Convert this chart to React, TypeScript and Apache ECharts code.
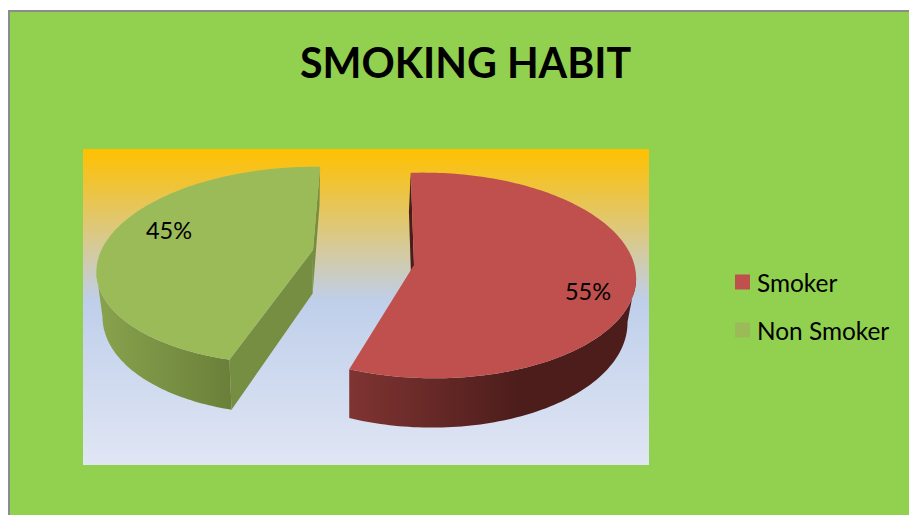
import React, { useEffect, useRef } from "react";
import * as echarts from "echarts";

const titleText = "SMOKING HABIT";
const categories = ["Smoker", "Non Smoker"];
const shares = [55, 45];
const sliceColors = ["#C0504D", "#9BBB59"];

const START_ANGLE = -1;
const FONT = "Lato, Carlito, sans-serif";

type Proj = {
  ax: number; ay: number; A: number; B: number; S: number; C: number; k: number; m: number;
  vx: number; d0: number; y0: number; dSlope: number;
  wall: [string, string, number, number]; face: string; labelX: number; labelY: number;
  faceStart: boolean; faceEnd: boolean;
};

const projections: Proj[] = [
  { ax: 414, ay: 265, A: 101.5, B: 205, S: 0, C: 2, k: 0.1, m: -0.072, vx: 350, d0: 39, y0: 172, dSlope: 0.05,
    wall: ["#7F3432", "#4C1D1B", 350, 520], face: "#4A1C1B", labelX: 588, labelY: 291, faceStart: true, faceEnd: false },
  { ax: 313, ay: 250, A: 96, B: 201, S: 11.7, C: 0, k: 0.155, m: 0.05, vx: 300, d0: 38.5, y0: 167, dSlope: 0.06,
    wall: ["#87A14C", "#6A8039", 103, 231], face: "#768E42", labelX: 169, labelY: 230, faceStart: true, faceEnd: true },
];

function project(p: Proj, u: number, v: number): number[] {
  const w = 1 + p.k * v + p.m * u;
  return [p.ax + (p.B * u + p.S * v) / w, p.ay + (p.C * u - p.A * v) / w];
}
function extrude(p: Proj, pt: number[]): number[] {
  return [p.vx + (pt[0] - p.vx) * 0.97, pt[1] + p.d0 + (pt[1] - p.y0) * p.dSlope];
}
function onCircle(p: Proj, deg: number, r = 1): number[] {
  const t = (deg * Math.PI) / 180;
  return project(p, r * Math.sin(t), r * Math.cos(t));
}

function sliceRenderer(index: number) {
  return (_params: any, api: any) => {
    const total = shares.reduce((a, b) => a + b, 0);
    const before = shares.slice(0, index).reduce((a, b) => a + b, 0);
    const value = api.value(0) as number;
    const a0 = START_ANGLE + (before / total) * 360;
    const a1 = a0 + (value / total) * 360;
    const p = projections[index];
    const steps = 160;
    const arc: number[][] = [];
    for (let i = 0; i <= steps; i++) arc.push(onCircle(p, a0 + ((a1 - a0) * i) / steps));
    const apex = project(p, 0, 0);
    let tip = 0;
    arc.forEach((q, i) => {
      if (Math.abs(q[0] - apex[0]) > Math.abs(arc[tip][0] - apex[0])) tip = i;
    });
    const front = arc[steps][1] > arc[0][1] ? arc.slice(tip) : arc.slice(0, tip + 1);
    const low = front.map((q) => extrude(p, q));
    const children: any[] = [];
    const radial = (q: number[]) => [q, extrude(p, q), extrude(p, apex), apex];
    if (p.faceStart) children.push({ type: "polygon", shape: { points: radial(arc[0]) }, style: { fill: p.face } });
    if (p.faceEnd) children.push({ type: "polygon", shape: { points: radial(arc[steps]) }, style: { fill: p.face } });
    children.push({
      type: "polygon",
      shape: { points: [...front, ...low.slice().reverse()] },
      style: {
        fill: new echarts.graphic.LinearGradient(p.wall[2], 0, p.wall[3], 0,
          [{ offset: 0, color: p.wall[0] }, { offset: 1, color: p.wall[1] }], true),
      },
    });
    children.push({ type: "polygon", shape: { points: [apex, ...arc] }, style: { fill: sliceColors[index] } });
    children.push({
      type: "text",
      style: {
        text: `${value}%`, x: p.labelX, y: p.labelY, textAlign: "center", textVerticalAlign: "middle",
        font: `23.5px ${FONT}`, fill: "#000000",
      },
    });
    return { type: "group", children };
  };
}

export default function App() {
  const ref = useRef<HTMLDivElement>(null);
  useEffect(() => {
    const chart = echarts.init(ref.current!, null, { renderer: "svg" });
    chart.setOption({
      animation: false,
      title: {
        text: titleText, left: 295, top: 36,
        textStyle: { fontFamily: FONT, fontWeight: "bold", fontSize: 41.2, color: "#000000" },
      },
      legend: {
        orient: "vertical", left: 730, top: 265, itemWidth: 15, itemHeight: 15, itemGap: 24,
        data: categories.map((name) => ({ name, icon: "rect" })),
        textStyle: { fontFamily: FONT, fontSize: 24.4, color: "#000000", padding: [0, 0, 0, 2] },
        selectedMode: false,
      },
      graphic: [
        { type: "rect", z: -10, shape: { x: 8, y: 10, width: 901, height: 505 }, style: { fill: "#8C8C8C" } },
        { type: "rect", z: -9, shape: { x: 10, y: 12, width: 899, height: 503 }, style: { fill: "#92D050" } },
        {
          type: "rect", z: -8, shape: { x: 83, y: 149, width: 566, height: 316 },
          style: {
            fill: new echarts.graphic.LinearGradient(0, 0, 0, 1, [
              { offset: 0, color: "#FFC000" },
              { offset: 0.48, color: "#BFCFEA" },
              { offset: 1, color: "#E0E6F4" },
            ]),
          },
        },
      ],
      series: categories.map((name, i) => ({
        type: "custom", name, coordinateSystem: "none", silent: true,
        itemStyle: { color: sliceColors[i] },
        data: [[shares[i]]],
        renderItem: sliceRenderer(i),
      })),
    });
    return () => chart.dispose();
  }, []);
  return <div ref={ref} style={{ position: "fixed", left: 0, top: 0, width: 909, height: 515, background: "#fff" }} />;
}
